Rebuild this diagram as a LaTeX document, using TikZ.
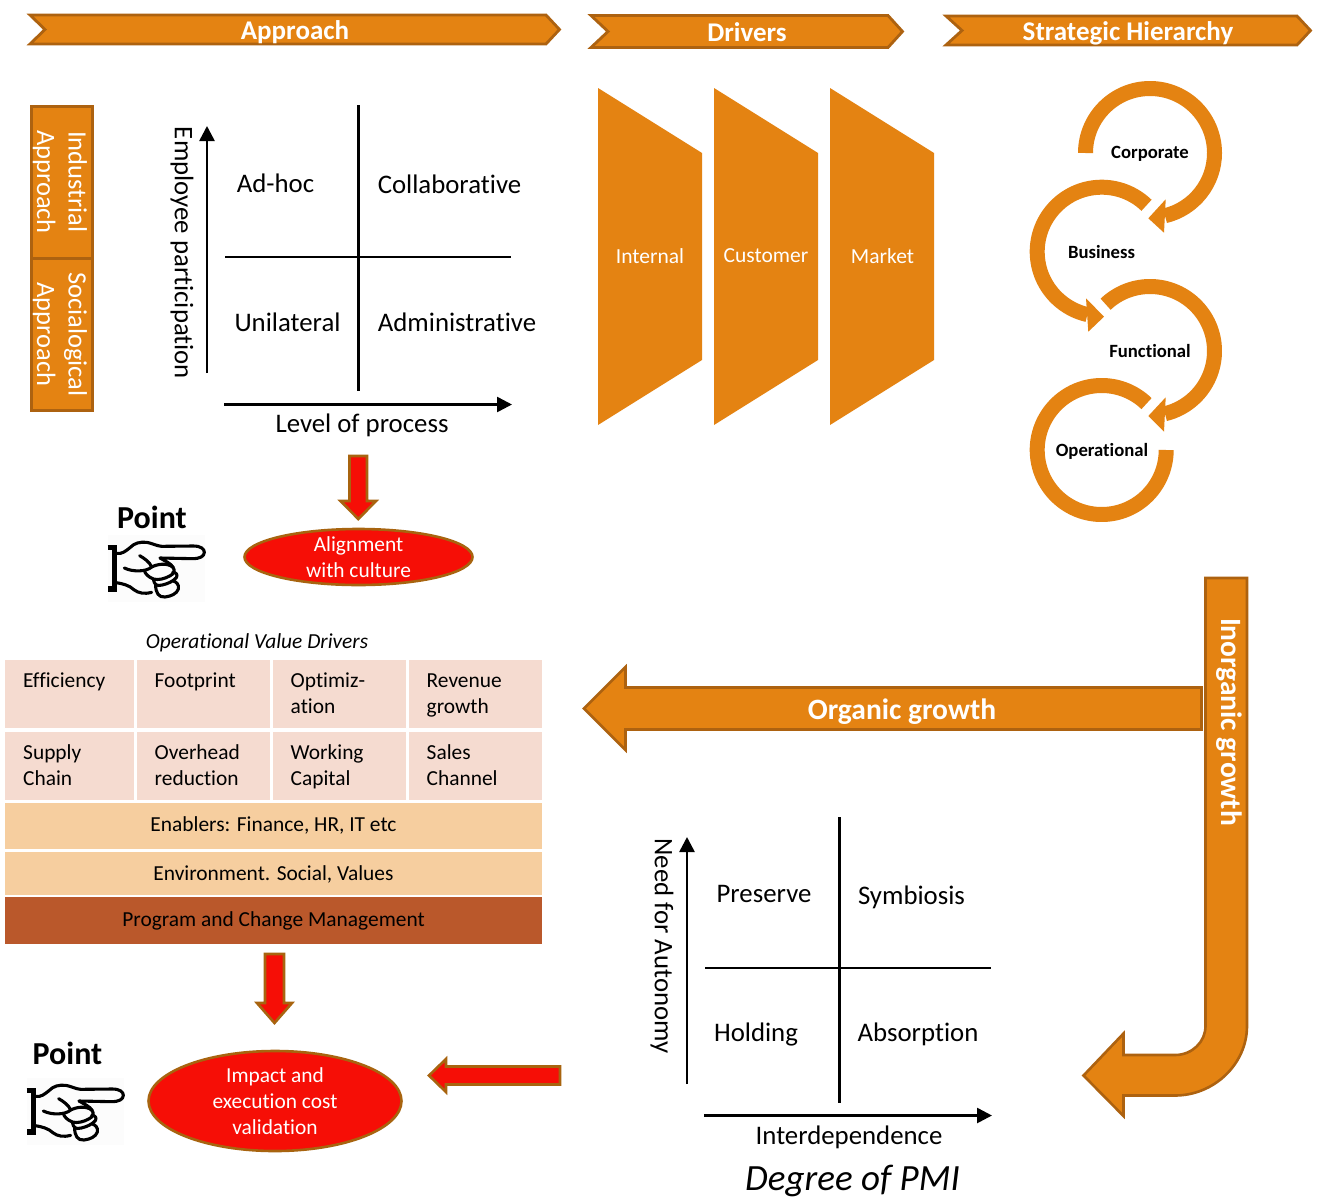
\documentclass[tikz,border=0pt]{standalone}
\usepackage{fontspec}
\setmainfont[Ligatures=NoCommon]{Carlito}
\usetikzlibrary{arrows.meta}
\definecolor{org}{HTML}{E48312}
\definecolor{orgd}{HTML}{AD6210}
\definecolor{redf}{HTML}{F60E06}
\definecolor{redd}{HTML}{A8640F}
\definecolor{cellp}{HTML}{F5DBD0}
\definecolor{cellt}{HTML}{F6CE9F}
\definecolor{cellb}{HTML}{BA582B}
\newcommand{\fs}[1]{\fontsize{#1pt}{#1pt}\selectfont}
\tikzset{
  x=1pt,y=-1pt,
  banner/.style={draw=orgd,fill=org,line width=2.8pt,line join=miter},
  bantext/.style={text=white,font=\fs{27}\bfseries,inner sep=0pt},
  plate/.style={fill=org,draw=none},
  axisline/.style={line width=2.6pt,black},
  axisarrow/.style={line width=2.6pt,black,-{Triangle[length=15pt,width=15pt]}},
  matrixlabel/.style={text=black,font=\fs{26.8},inner sep=0pt},
  sidebox/.style={draw=orgd,fill=org,line width=3pt},
  sidetext/.style={text=white,font=\fs{26.5},inner sep=0pt,rotate=-90,align=center},
  platetext/.style={text=white,font=\fs{21.5},inner sep=0pt},
  redarrow/.style={fill=redf,draw=redd,line width=2.6pt,line join=miter},
  redell/.style={fill=redf,draw=redd,line width=2.6pt},
  redtext/.style={text=white,font=\fs{21.4},inner sep=0pt,align=center},
  cell/.style={fill=cellp,draw=none},
  cellwide/.style={fill=cellt,draw=none},
  celltext/.style={text=black,font=\fs{21.4},inner sep=0pt,anchor=base west},
  pointlabel/.style={text=black,font=\fs{32}\bfseries,inner sep=0pt},
  bigarrow/.style={fill=org,draw=orgd,line width=2.6pt,line join=miter},
  bigtext/.style={text=white,font=\fs{29.5}\bfseries,inner sep=0pt},
  ring/.style={org,line width=15pt},
  ringhead/.style={fill=org,draw=none},
  ringtext/.style={text=black,font=\fs{18.7}\bfseries,inner sep=0pt},
  handink/.style={line width=3.1pt,black,line cap=round,line join=round},
}
\newcommand{\hand}[2]{%
\begin{scope}[shift={(#1,#2)},x=0.3333pt,y=-0.3333pt]
  \fill[white!99!black] (10,0) rectangle (300,200);
  \draw[black,line width=5.5pt] (8,38) -- (28,38) -- (28,162) -- (8,162);
  \draw[handink] (34,55) .. controls (52,58) and (62,48) .. (75,38) .. controls (88,24) and (105,20) .. (125,22) .. controls (140,24) and (155,33) .. (170,34) -- (265,33) .. controls (288,33) and (298,42) .. (298,52) .. controls (298,64) and (285,71) .. (262,71) -- (165,69) .. controls (180,78) and (198,85) .. (205,98);
  \draw[handink] (34,143) .. controls (52,146) and (72,150) .. (88,165) .. controls (100,174) and (118,178) .. (140,172);
  \draw[handink] (104,62) .. controls (118,70) and (135,82) .. (140,96) .. controls (125,110) and (85,112) .. (58,99);
  % three fingers of the fist
  \draw[handink] (140,96) .. controls (155,88) and (185,82) .. (203,96) .. controls (212,106) and (207,116) .. (196,122) .. controls (178,132) and (160,136) .. (145,132) .. controls (130,126) and (120,116) .. (118,106);
  \draw[handink] (145,132) .. controls (148,150) and (155,154) .. (172,150) .. controls (190,146) and (205,138) .. (214,128) .. controls (220,118) and (212,112) .. (203,112);
  \draw[handink] (152,150) .. controls (152,172) and (160,188) .. (180,186) .. controls (198,184) and (216,176) .. (220,162) .. controls (224,148) and (212,140) .. (205,138);
\end{scope}}
\begin{document}
\begin{tikzpicture}
\useasboundingbox (0,0) rectangle (1317,1197);
\fill[white] (0,0) rectangle (1317,1197);
% banners
\draw[banner] (30,15) -- (546,15) -- (559.5,29.5) -- (546,44) -- (30,44) -- (45,29.5) -- cycle;
\node[bantext] (tapproach) at (295,32) {Approach};
\draw[banner] (591,15.5) -- (888,15.5) -- (902.5,31.5) -- (888,47.5) -- (591,47.5) -- (608,31.5) -- cycle;
\node[bantext] (tdrivers) at (747,32) {Drivers};
\draw[banner] (946,16) -- (1297,16) -- (1310.5,30.5) -- (1297,45) -- (946,45) -- (962,30.5) -- cycle;
\node[bantext] (tstrategic) at (1128,33) {Strategic Hierarchy};
% side boxes
\draw[sidebox] (31,106) rectangle (92.5,258) node[midway] (bindustrial) {};
\draw[sidebox] (31,258) rectangle (92.5,410) node[midway] (bsocio) {};
\node[sidetext] (tindustrial) at (60,182) {Industrial\\[5pt]Approach};
\node[sidetext] (tsocio) at (60,334.5) {Socialogical\\[5pt]Approach};
% matrix 1
\draw[axisline] (358.5,105) -- (358.5,391);
\draw[axisline] (225,257) -- (511,257);
\draw[axisarrow] (207,373) -- (207,126);
\draw[axisarrow] (224,404.5) -- (512,404.5);
\node[matrixlabel] (adhoc) at (275.5,183) {Ad-hoc};
\node[matrixlabel] (collab) at (449.5,184.5) {Collaborative};
\node[matrixlabel] (unilat) at (287.5,322) {Unilateral};
\node[matrixlabel] (admin) at (457,322) {Administrative};
\node[matrixlabel,rotate=-90] (empl) at (182,253) {Employee participation};
\node[matrixlabel] (level) at (362,425.5) {Level of process};
% trapezoids
\foreach \dx in {0,116,232}{
  \fill[plate] (598+\dx,88) -- (702+\dx,153) -- (702+\dx,360) -- (598+\dx,425) -- cycle;
}
\node[platetext] (tint) at (650,256) {Internal};
\node[platetext] (tcust) at (766,256) {Customer};
\node[platetext] (tmark) at (882.5,256) {Market};
% rings
\draw[ring] (1150,153) ++(180:64.5) arc[start angle=180,end angle=436.6,radius=64.5];
\fill[ringhead] (1165.7,199.3) -- (1148.3,218.3) -- (1164,232.7) -- cycle;
\draw[ring] (1101.7,251.7) ++(314:64.5) arc[start angle=314,end angle=102.8,radius=64.5];
\fill[ringhead] (1086,298.3) -- (1104,316.7) -- (1088.3,331.7) -- cycle;
\draw[ring] (1150,351) ++(226.5:64.5) arc[start angle=226.5,end angle=436.6,radius=64.5];
\fill[ringhead] (1165.7,397.3) -- (1148.3,416) -- (1164,431.7) -- cycle;
\draw[ring] (1101.7,450) ++(314:64.5) arc[start angle=314,end angle=0,radius=64.5];
\node[ringtext] (tcorp) at (1150,154) {Corporate};
\node[ringtext] (tbus) at (1101.5,252.5) {Business};
\node[ringtext] (tfunc) at (1150,351) {Functional};
\node[ringtext] (toper) at (1102,451.5) {Operational};
% red arrow & ellipse 1
\draw[redarrow] (349.5,456) -- (367,456) -- (367,501) -- (376,501) -- (358.3,519) -- (340.5,501) -- (349.5,501) -- cycle;
\draw[redell] (358.5,557) ellipse[x radius=114,y radius=28];
\node[redtext] (talign) at (358.5,557) {Alignment\\[4.6pt]with culture};
\node[pointlabel] (pt1) at (152,517) {Point};
\hand{105}{535}
% table
\node[text=black,font=\fs{21.4}\itshape,inner sep=0pt] (tovd) at (257,642.5) {Operational Value Drivers};
\fill[cell] (5,660) rectangle (134,728);
\fill[cell] (137,660) rectangle (270,728);
\fill[cell] (273,660) rectangle (406,728);
\fill[cell] (409,660) rectangle (542,728);
\fill[cell] (5,732) rectangle (134,800);
\fill[cell] (137,732) rectangle (270,800);
\fill[cell] (273,732) rectangle (406,800);
\fill[cell] (409,732) rectangle (542,800);
\fill[cellwide] (5,803) rectangle (542,849);
\fill[cellwide] (5,852) rectangle (542,895);
\fill[cellb] (5,897) rectangle (542,944);
\node[celltext] (c1) at (23,687.5) {Efficiency};
\node[celltext] (c2) at (154.5,687.5) {Footprint};
\node[celltext] (c3a) at (290.5,687.5) {Optimiz-};
\node[celltext] (c3b) at (290.5,713.5) {ation};
\node[celltext] (c4a) at (426.5,687.5) {Revenue};
\node[celltext] (c4b) at (426.5,713.5) {growth};
\node[celltext] (c5a) at (23,759.5) {Supply};
\node[celltext] (c5b) at (23,785.5) {Chain};
\node[celltext] (c6a) at (154.5,759.5) {Overhead};
\node[celltext] (c6b) at (154.5,785.5) {reduction};
\node[celltext] (c7a) at (290.5,759.5) {Working};
\node[celltext] (c7b) at (290.5,785.5) {Capital};
\node[celltext] (c8a) at (426.5,759.5) {Sales};
\node[celltext] (c8b) at (426.5,785.5) {Channel};
\node[celltext,anchor=base] (enab) at (273.5,831.5) {Enablers: Finance, HR, IT etc};
\node[celltext,anchor=base] (envi) at (273.5,880.5) {Environment. Social, Values};
\node[celltext,anchor=base] (prog) at (273.5,926.5) {Program and Change Management};
% red arrow & ellipse 2
\draw[redarrow] (265,954) -- (284,954) -- (284,1003) -- (292,1003) -- (274.5,1023) -- (257,1003) -- (265,1003) -- cycle;
\draw[redell] (275,1101) ellipse[x radius=126.5,y radius=50];
\node[redtext] (timpact) at (275,1101.5) {Impact and\\[4.6pt]execution cost\\[4.6pt]validation};
\node[pointlabel] (pt2) at (67.5,1053) {Point};
\hand{24}{1078}
% left red arrow
\draw[redarrow] (560,1066.5) -- (446,1066.5) -- (446,1059) -- (429,1075.5) -- (446,1092) -- (446,1084.5) -- (560,1084.5) -- cycle;
% organic
\draw[bigarrow] (1201.5,687.5) -- (625.5,687.5) -- (625.5,667) -- (584,708.5) -- (625.5,750) -- (625.5,729.5) -- (1201.5,729.5) -- cycle;
\node[bigtext] (torganic) at (902,712) {Organic growth};
% inorganic
\draw[bigarrow] (1205.5,578) -- (1247,578) -- (1247,1026) .. controls (1247,1064) and (1214,1095.5) .. (1175,1095.5) -- (1123.5,1095.5) -- (1123.5,1116) -- (1083.5,1075.5) -- (1123.5,1033.5) -- (1123.5,1055) -- (1175,1055) .. controls (1192,1055) and (1205.5,1042) .. (1205.5,1026) -- cycle;
\node[bigtext,rotate=-90] (tinorganic) at (1229,722) {Inorganic growth};
% matrix 2
\draw[axisline] (839.5,817) -- (839.5,1103);
\draw[axisline] (705,968) -- (991,968);
\draw[axisarrow] (687,1084) -- (687,837);
\draw[axisarrow] (704,1115.5) -- (992,1115.5);
\node[matrixlabel] (preserve) at (764,894) {Preserve};
\node[matrixlabel] (symb) at (911.5,897.5) {Symbiosis};
\node[matrixlabel] (hold) at (756,1034.5) {Holding};
\node[matrixlabel] (absor) at (918,1034.5) {Absorption};
\node[matrixlabel,rotate=-90] (need) at (662,946) {Need for Autonomy};
\node[matrixlabel] (inter) at (849,1137.5) {Interdependence};
\node[text=black,font=\fs{37}\itshape,inner sep=0pt] (deg) at (852.5,1180.5) {Degree of PMI};
\end{tikzpicture}
\end{document}
